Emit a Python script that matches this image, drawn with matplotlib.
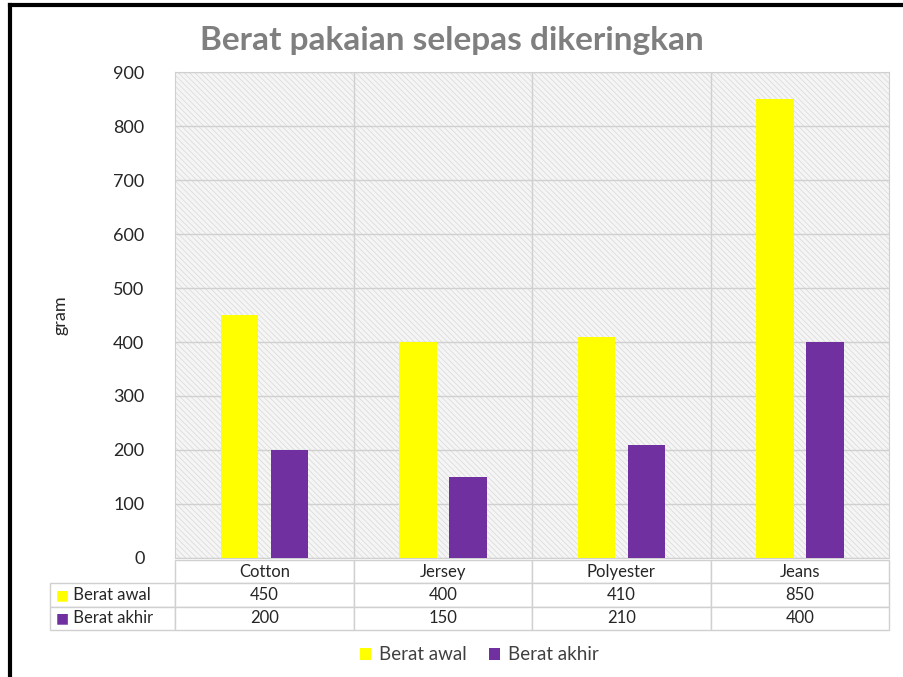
import matplotlib
matplotlib.use("Agg")
import matplotlib.pyplot as plt
from matplotlib.patches import Rectangle, Patch
from matplotlib.lines import Line2D
from matplotlib.table import Table

# data
kategori = ["Cotton", "Jersey", "Polyester", "Jeans"]
berat_awal = [450, 400, 410, 850]
berat_akhir = [200, 150, 210, 400]
siri = ["Berat awal", "Berat akhir"]
warna = ["#FFFF00", "#7030A0"]

plt.rcParams['font.family'] = ['Lato', 'DejaVu Sans']
plt.rcParams['hatch.linewidth'] = 0.5
plt.rcParams['hatch.color'] = '#d8d8d8'

fig = plt.figure(figsize=(9.04, 6.77), dpi=100)
ax = fig.add_axes([0.1936, 0.1758, 0.79, 0.7178])

# latar berbelang
ax.add_patch(Rectangle((0, 0), 1, 1, transform=ax.transAxes, facecolor='#f5f5f5',
                       edgecolor='#d8d8d8', hatch='\\\\\\\\\\\\', linewidth=0, zorder=0))

x = range(len(kategori))
ax.bar([i - 0.14 for i in x], berat_awal, width=0.21, color=warna[0], zorder=3)
ax.bar([i + 0.14 for i in x], berat_akhir, width=0.21, color=warna[1], zorder=3)

ax.set_xlim(-0.5, len(kategori) - 0.5)
ax.set_ylim(0, 900)
ax.set_yticks(range(0, 901, 100))
ax.set_yticklabels([str(v) for v in range(0, 901, 100)], fontsize=13, color='#262626')
ax.set_xticks([])
ax.tick_params(axis='y', length=0, pad=22)
ax.yaxis.grid(True, color='#d0d0d0', linewidth=1, zorder=1)
for b in [0.5, 1.5, 2.5]:
    ax.axvline(b, color='#d0d0d0', linewidth=1, zorder=1)
for s in ax.spines.values():
    s.set_color('#d0d0d0')
ax.set_facecolor('white')
ax.set_ylabel("gram", fontsize=13, color='#262626', labelpad=32)

fig.suptitle("Berat pakaian selepas dikeringkan", fontsize=24, fontweight='bold',
             color='#7f7f7f', x=0.5, y=0.94, va='center')

# jadual data
lebar_label = 125 / 714
lebar_kol = 1.0 / len(kategori)
tbl = Table(ax, bbox=[-lebar_label, -0.148, 1 + lebar_label, 0.144])
tinggi = 1 / 3
for j, k in enumerate(kategori):
    tbl.add_cell(0, j + 1, lebar_kol, tinggi, text=k, loc='center')
baris = [berat_awal, berat_akhir]
for r, nama in enumerate(siri):
    tbl.add_cell(r + 1, 0, lebar_label, tinggi, text="     " + nama, loc='left')
    for j, v in enumerate(baris[r]):
        tbl.add_cell(r + 1, j + 1, lebar_kol, tinggi, text=str(v), loc='center')
tbl.auto_set_font_size(False)
for (r, c), cell in tbl.get_celld().items():
    cell.set_edgecolor('#d0d0d0')
    cell.set_linewidth(1)
    cell.get_text().set_fontsize(12)
    cell.get_text().set_color('#262626')
    cell.PAD = 0.02
ax.add_table(tbl)

# penanda warna dalam jadual
for r, w in enumerate(warna):
    ax.text(-lebar_label + 0.008, -0.148 + 0.144 * (1 - (r + 1.5) / 3), "■", color=w,
            fontsize=10, va='center', ha='left', transform=ax.transAxes,
            family=['DejaVu Sans'])

# legenda
handles = [Patch(facecolor=warna[i], label=siri[i]) for i in range(2)]
fig.legend(handles=handles, loc='center', bbox_to_anchor=(0.53, 0.033), ncol=2,
           frameon=False, fontsize=13.5, handlelength=0.6, handleheight=0.6,
           handletextpad=0.4, columnspacing=1.2, labelcolor='#404040')

# bingkai hitam
fig.add_artist(Line2D([0.011, 0.011], [0, 0.992], color='black', linewidth=3,
                      transform=fig.transFigure))
fig.add_artist(Line2D([0.011, 1], [0.992, 0.992], color='black', linewidth=3,
                      transform=fig.transFigure))

fig.savefig("out.png", dpi=100)
